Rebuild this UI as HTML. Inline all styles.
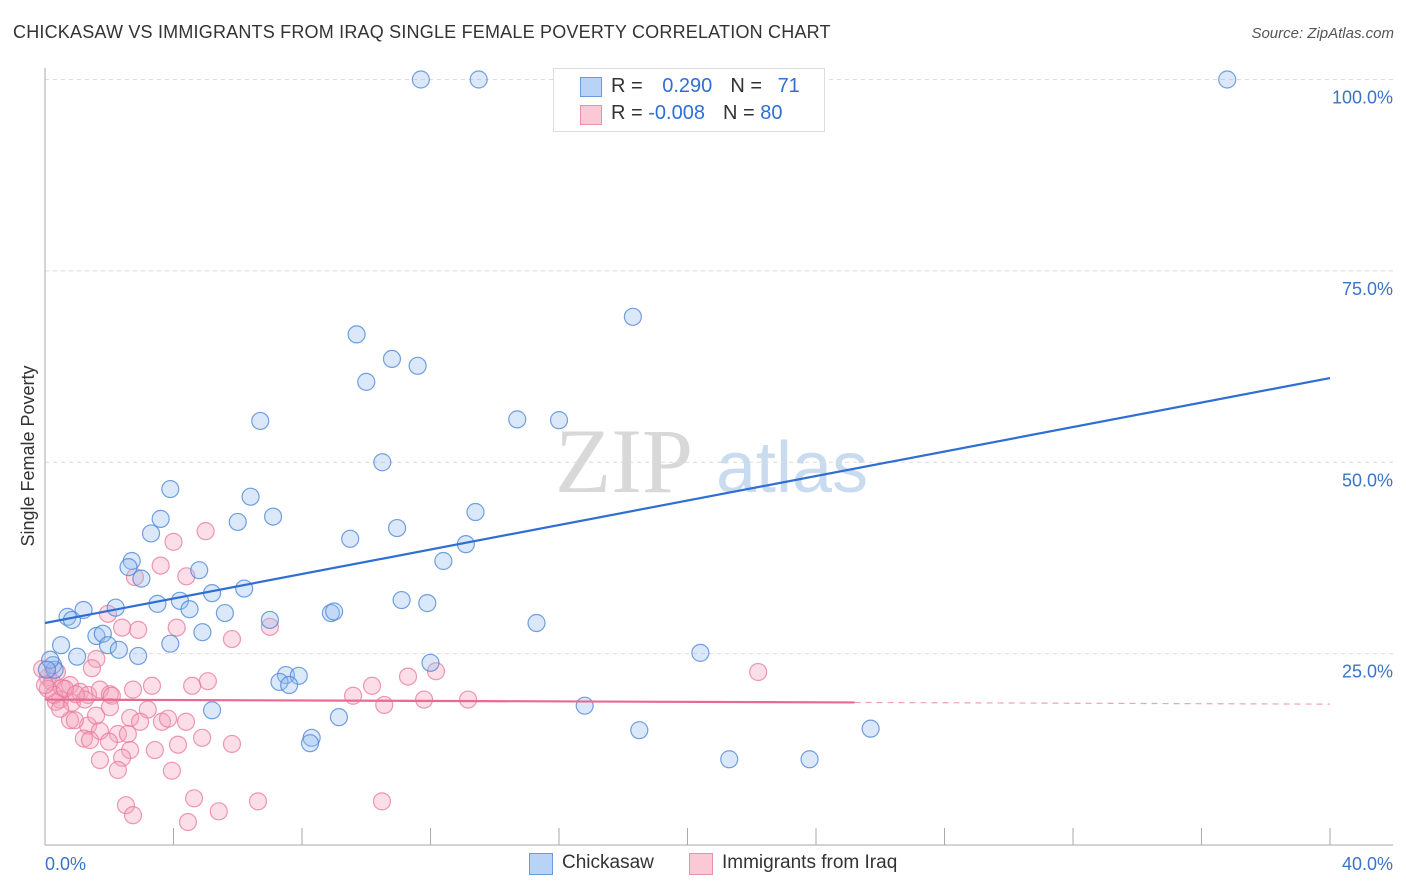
<!DOCTYPE html>
<html><head><meta charset="utf-8">
<style>
body{margin:0;background:#fff;font-family:"Liberation Sans",sans-serif;}
#wrap{position:relative;width:1406px;height:892px;overflow:hidden;}
.t{position:absolute;white-space:nowrap;}
</style></head>
<body>
<div id="wrap">
<div class="t" style="left:13px;top:22px;font-size:18px;color:#333;letter-spacing:0.2px">CHICKASAW VS IMMIGRANTS FROM IRAQ SINGLE FEMALE POVERTY CORRELATION CHART</div>
<div class="t" style="right:12px;top:25px;font-size:15px;color:#555;font-style:italic">Source: ZipAtlas.com</div>
<svg id="svg" width="1406" height="892" style="position:absolute;left:0;top:0"></svg>
</div>
<script>
const yTicks=[25,50,75,100];
const yTickLabels=["25.0%","50.0%","75.0%","100.0%"];
const xTickLabels=["0.0%","40.0%"];
const blueX=[11.7,13.5,36.8,18.3,9.7,10.8,11.6,10.0,6.7,14.7,16.0,10.5,3.9,6.4,3.6,6.0,7.1,13.4,10.96,9.5,13.1,3.3,2.7,2.6,12.4,3.0,4.8,6.2,5.2,3.5,4.2,4.5,5.6,11.1,11.9,0.7,0.84,1.2,2.2,7.0,8.9,9.0,15.3,1.6,1.8,4.9,3.9,0.5,1.96,2.3,2.9,1.0,0.25,0.3,20.4,12.0,7.5,7.9,7.3,7.6,5.2,16.8,9.15,8.3,8.25,18.5,21.3,23.8,25.7,0.16,0.06];
const blueY=[100,100,100,69.0,66.7,63.5,62.6,60.5,55.4,55.6,55.5,50.0,46.5,45.5,42.6,42.2,42.9,43.5,41.4,40.0,39.3,40.7,37.1,36.3,37.1,34.8,35.9,33.5,32.9,31.5,31.9,30.8,30.3,32.0,31.6,29.8,29.4,30.7,31.0,29.4,30.3,30.5,29.0,27.3,27.6,27.8,26.3,26.1,26.1,25.5,24.7,24.6,23.5,22.9,25.1,23.8,22.2,22.1,21.3,20.9,17.6,18.2,16.7,14.0,13.3,15.0,11.2,11.2,15.2,24.2,22.9];
const pinkX=[5.0,4.0,3.6,2.8,4.4,1.96,2.4,2.9,4.1,7.0,1.6,1.46,0.37,0.09,0.22,0.53,0.78,1.09,1.34,1.71,2.02,0.47,0.84,1.24,0.34,2.08,2.74,3.33,5.07,4.58,5.82,10.18,11.3,12.17,13.17,9.59,10.56,11.8,22.2,2.65,3.2,3.64,3.83,2.27,2.58,1.34,0.78,1.71,1.21,1.99,4.39,2.65,2.4,3.42,4.14,4.89,5.82,2.27,3.95,2.52,2.74,4.64,4.45,5.41,6.63,10.49,0.09,0.28,0.62,0.96,2.02,1.59,2.96,0.47,-0.09,0.0,0.93,1.4,1.71];
const pinkY=[41.0,39.6,36.5,35.0,35.1,30.2,28.4,28.1,28.4,28.5,24.3,23.1,22.6,21.9,21.3,20.5,20.9,20.0,19.6,20.3,19.7,19.0,18.6,19.0,18.7,19.5,20.3,20.8,21.4,20.8,26.9,20.8,22.0,22.7,19.0,19.5,18.3,19.0,22.6,16.6,17.7,16.1,16.5,14.5,14.5,15.6,16.3,14.9,13.9,13.5,16.1,12.4,11.4,12.4,13.1,14.0,13.2,9.8,9.7,5.2,3.9,6.1,3.0,4.4,5.7,5.7,20.4,19.6,20.4,19.7,18.0,16.9,16.1,17.8,23.0,20.9,16.3,13.7,11.1];
const blueLine=[0,29.0,40,61.0];
const pinkLine=[0,19.0,40,18.4];
const pinkSolidEnd=25.2;

const L=45,R=1330,T=80,B=845;
const xs=v=>L+(v/40)*(R-L);
const ys=v=>B-(v/100)*(B-T+0.5);
const svg=document.getElementById('svg');
const NS='http://www.w3.org/2000/svg';
function mk(tag,attrs){const e=document.createElementNS(NS,tag);for(const k in attrs)e.setAttribute(k,attrs[k]);svg.appendChild(e);return e;}

// watermark
let wm=mk('text',{x:555,y:492,'font-size':92,fill:'#d8d8d8','font-family':'Liberation Serif, serif'});wm.textContent='ZIP';


let wm2=mk('text',{x:716,y:492,'font-size':72,fill:'#c9dbef','font-family':'Liberation Sans, sans-serif'});wm2.textContent='atlas';



// gridlines
yTicks.forEach((t,i)=>{
 const g=mk('line',{x1:L,x2:1393,y1:ys(t),y2:ys(t),stroke:'#dcdcdc','stroke-dasharray':'4,4'});
 
 
 const tx=mk('text',{x:1393,y:ys(t)+24,'text-anchor':'end','font-size':18,fill:'#3b73c8'});tx.textContent=yTickLabels[i];
 
 
});
// axes
let ax=mk('line',{x1:L,x2:L,y1:68,y2:B,stroke:'#aaa'});


let bx=mk('line',{x1:L,x2:1393,y1:B,y2:B,stroke:'#aaa'});


for(let i=1;i<=10;i++){
 const t=mk('line',{x1:xs(i*4),x2:xs(i*4),y1:828,y2:B,stroke:'#aaa'});
 
 
}
let xl0=mk('text',{x:45,y:870,'font-size':18,fill:'#3b73c8'});xl0.textContent=xTickLabels[0];


let xl1=mk('text',{x:1393,y:870,'text-anchor':'end','font-size':18,fill:'#3b73c8'});xl1.textContent=xTickLabels[1];


let yt=mk('text',{x:34,y:456,'text-anchor':'middle','font-size':18,fill:'#333',transform:'rotate(-90 34 456)'});yt.textContent='Single Female Poverty';



// points
pinkX.forEach((v,i)=>{
 const c=mk('circle',{cx:xs(v),cy:ys(pinkY[i]),r:8.5,fill:'rgba(244,160,185,0.35)',stroke:'rgba(232,120,155,0.75)','stroke-width':1.2});
 
 
});
blueX.forEach((v,i)=>{
 const c=mk('circle',{cx:xs(v),cy:ys(blueY[i]),r:8.5,fill:'rgba(150,190,240,0.35)',stroke:'rgba(70,130,215,0.75)','stroke-width':1.2});
 
 
});
// trend lines
let bl=mk('line',{x1:xs(blueLine[0]),y1:ys(blueLine[1]),x2:xs(blueLine[2]),y2:ys(blueLine[3]),stroke:'#2f6fd4','stroke-width':2.2});


const py=x=>pinkLine[1]+(pinkLine[3]-pinkLine[1])*(x-pinkLine[0])/(pinkLine[2]-pinkLine[0]);
let pl=mk('line',{x1:xs(0),y1:ys(py(0)),x2:xs(pinkSolidEnd),y2:ys(py(pinkSolidEnd)),stroke:'#e86a92','stroke-width':2.2});


let pd=mk('line',{x1:xs(pinkSolidEnd),y1:ys(py(pinkSolidEnd)),x2:xs(40),y2:ys(py(40)),stroke:'#f0a0b8','stroke-width':1.2,'stroke-dasharray':'6,5'});


</script>
<div style="position:absolute;left:553px;top:68px;width:270px;height:62px;border:1px solid #ddd;background:#fff;font-size:20px;color:#333">
 <div style="position:absolute;left:26px;top:8px;width:20px;height:18px;background:#b8d3f5;border:1px solid #6a9be0"></div>
 <div class="t" style="left:57px;top:6px">R = <span style="color:#2f6fd4;margin-left:14px">0.290</span><span style="margin-left:18px">N = </span><span style="color:#2f6fd4;margin-left:10px">71</span></div>
 <div style="position:absolute;left:26px;top:36px;width:20px;height:18px;background:#fbc8d6;border:1px solid #eb8fab"></div>
 <div class="t" style="left:57px;top:33px">R = <span style="color:#2f6fd4">-0.008</span><span style="margin-left:18px">N = </span><span style="color:#2f6fd4">80</span></div>
</div>
<div style="position:absolute;top:852px;left:529px;font-size:19px;color:#333">
 <div style="position:absolute;left:0;top:1px;width:22px;height:20px;background:#b8d3f5;border:1px solid #6a9be0"></div>
 <div class="t" style="left:33px;top:0">Chickasaw</div>
 <div style="position:absolute;left:160px;top:1px;width:22px;height:20px;background:#fbc8d6;border:1px solid #eb8fab"></div>
 <div class="t" style="left:193px;top:0">Immigrants from Iraq</div>
</div>
</body></html>
